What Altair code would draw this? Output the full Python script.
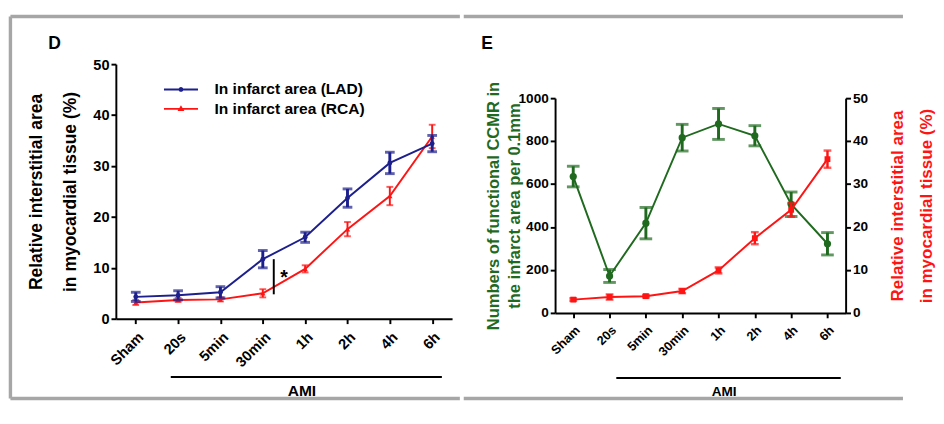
import altair as alt
import pandas as pd

# ---------------- data ----------------
categories = ["Sham", "20s", "5min", "30min", "1h", "2h", "4h", "6h"]

# Panel D: relative interstitial area (%)
lad_mean = [4.3, 4.6, 5.2, 11.7, 16.0, 23.7, 30.6, 34.4]
lad_err = [0.9, 0.9, 1.1, 1.7, 1.0, 1.8, 2.1, 1.6]
rca_mean = [3.2, 3.7, 3.8, 5.0, 9.8, 17.6, 24.1, 35.8]
rca_err = [0.5, 0.4, 0.4, 0.8, 0.7, 1.4, 1.8, 2.3]
sig_top, sig_bottom, sig_star = 11.7, 4.8, 8.0

# Panel E
ccmr_mean = [635, 172, 418, 816, 880, 825, 506, 322]
ccmr_err = [48, 30, 73, 62, 72, 47, 57, 52]
area_mean = [3.1, 3.7, 3.9, 5.1, 9.9, 17.4, 24.0, 35.8]
area_err = [0.3, 0.6, 0.3, 0.5, 0.7, 1.4, 1.6, 2.0]

legend_labels = ["In infarct area (LAD)", "In infarct area (RCA)"]
yD_title = ["Relative interstitial area", "in myocardial tissue (%)"]
yE_left_title = ["Numbers of functional CCMR in", "the infarct area per 0.1mm"]
yE_right_title = ["Relative interstitial area", "in myocardial tissue (%)"]

FONT = "Liberation Sans"
NAVY = "#1c1f8c"
RED = "#ff1414"
GREEN = "#1f6a1f"
FRAME = "#a6a6a6"


def frame_df(mean, err):
    return pd.DataFrame({
        "cat": categories,
        "mean": mean,
        "lo": [m - e for m, e in zip(mean, err)],
        "hi": [m + e for m, e in zip(mean, err)],
    })


dLAD = frame_df(lad_mean, lad_err)
dRCA = frame_df(rca_mean, rca_err)
dCC = frame_df(ccmr_mean, ccmr_err)
dAR = frame_df(area_mean, area_err)
one = alt.Data(values=[{"a": 1}])

# ---------------- geometry ----------------
W1, H1 = 346, 262   # panel D plot area
W2, H2 = 299, 256   # panel E plot area (y range 35..256 inside it)
E_TOP = 35
FR_TOP, FR_BOT = -49, 344


def series_layers(df, xenc, ymaker, color, err_w, cap_w, cap_size, shape, pt_size):
    base = alt.Chart(df)
    return [
        base.mark_line(color=color, strokeWidth=2).encode(x=xenc, y=ymaker("mean")),
        base.mark_rule(color=color, strokeWidth=err_w).encode(x=xenc, y=ymaker("lo"), y2="hi:Q"),
        base.mark_tick(color=color, thickness=cap_w, size=cap_size).encode(x=xenc, y=ymaker("lo")),
        base.mark_tick(color=color, thickness=cap_w, size=cap_size).encode(x=xenc, y=ymaker("hi")),
        base.mark_point(color=color, filled=True, opacity=1, shape=shape, size=pt_size).encode(x=xenc, y=ymaker("mean")),
    ]


def frame_rules(x0, x1, ytop, ybot, left=True):
    r = []
    r.append(alt.Chart(one).mark_rule(color=FRAME, strokeWidth=3.5).encode(
        x=alt.value(x0), x2=alt.value(x1), y=alt.value(ytop)))
    r.append(alt.Chart(one).mark_rule(color=FRAME, strokeWidth=3.5).encode(
        x=alt.value(x0), x2=alt.value(x1), y=alt.value(ybot)))
    if left:
        r.append(alt.Chart(one).mark_rule(color=FRAME, strokeWidth=3.5).encode(
            x=alt.value(x0), y=alt.value(ytop), y2=alt.value(ybot)))
    return r


def text_mark(x, y, txt, size, align="center", baseline="middle"):
    return alt.Chart(one).mark_text(font=FONT, fontSize=size, fontWeight="bold", color="black",
                                    align=align, baseline=baseline).encode(
        x=alt.value(x), y=alt.value(y), text=alt.value(txt))


# ---------------- panel D ----------------
xD = alt.X("cat:N", sort=categories, scale=alt.Scale(type="point", padding=0.47),
           axis=alt.Axis(title=None, labelAngle=-45, labelFontSize=15, labelPadding=6))


def yD(field):
    return alt.Y(f"{field}:Q", scale=alt.Scale(domain=[0, 50], nice=False),
                 axis=alt.Axis(values=[0, 10, 20, 30, 40, 50], title=yD_title, titleFontSize=18,
                               titleLineHeight=35, titlePadding=14, labelFontSize=15))


path_lad = ("M-3.5,-0.2L3.5,-0.2L3.5,0.2L-3.5,0.2Z "
            "M-0.5,0A0.5,0.5 0 1,1 0.5,0A0.5,0.5 0 1,1 -0.5,0Z")
path_rca = ("M-3.5,-0.2L3.5,-0.2L3.5,0.2L-3.5,0.2Z "
            "M0,-0.75L0.7,0.45L-0.7,0.45Z")
leg = alt.Legend(orient="none", legendX=59, legendY=18, title=None, labelFont=FONT,
                 labelFontSize=16, labelFontWeight="bold", labelColor="black",
                 symbolSize=100, symbolOpacity=1, rowPadding=4, labelOffset=26.5)
legend_layer = alt.Chart(alt.Data(values=[{"s": legend_labels[0]}, {"s": legend_labels[1]}])).mark_point(
    filled=True, opacity=1).encode(
    color=alt.Color("s:N", scale=alt.Scale(domain=legend_labels, range=[NAVY, RED]), legend=leg),
    shape=alt.Shape("s:N", scale=alt.Scale(domain=legend_labels, range=[path_lad, path_rca]), legend=leg),
).transform_filter("false")

panelD_layers = (
    series_layers(dRCA, xD, yD, RED, 2, 2, 7, "triangle-up", 30)
    + series_layers(dLAD, xD, yD, NAVY, 3, 3, 10, "circle", 25)
    + [
        alt.Chart(one).mark_rule(color="black", strokeWidth=2).encode(
            x=alt.value(162.5), y=alt.datum(sig_top), y2=alt.datum(sig_bottom)),
        alt.Chart(one).mark_text(font=FONT, fontSize=20, fontWeight="bold", color="black").encode(
            x=alt.value(173), y=alt.datum(sig_star), text=alt.value("*")),
        alt.Chart(one).mark_rule(color="black", strokeWidth=2).encode(
            x=alt.value(56.5), x2=alt.value(335.5), y=alt.value(322)),
        text_mark(191.5, 337, "AMI", 16),
        text_mark(-69.5, -15.5, "D", 18, align="left", baseline="alphabetic"),
        legend_layer,
    ]
    + frame_rules(-108.5, 354, FR_TOP, FR_BOT)
)
panelD = alt.layer(*panelD_layers).properties(width=W1, height=H1)

# ---------------- panel E ----------------
xE = alt.X("cat:N", sort=categories, scale=alt.Scale(type="point", padding=0.5),
           axis=alt.Axis(title=None, labelAngle=-45, labelFontSize=13, labelPadding=6))


def yE_left(field):
    return alt.Y(f"{field}:Q", scale=alt.Scale(domain=[0, 1000], nice=False, range=[H2, E_TOP]),
                 axis=alt.Axis(values=[0, 200, 400, 600, 800, 1000], format="d", title=yE_left_title,
                               titleColor=GREEN, titleFontSize=17, titleLineHeight=22,
                               titlePadding=-6, labelFontSize=14, orient="left"))


def yE_right(field):
    return alt.Y(f"{field}:Q", scale=alt.Scale(domain=[0, 50], nice=False, range=[H2, E_TOP]),
                 axis=alt.Axis(values=[0, 10, 20, 30, 40, 50], title=yE_right_title,
                               titleColor=RED, titleFontSize=17.5, titleLineHeight=30,
                               titleAngle=270, titlePadding=10, labelFontSize=14, orient="right"))


green = alt.layer(*series_layers(dCC, xE, yE_left, GREEN, 3, 3, 13, "circle", 55))
red = alt.layer(*series_layers(dAR, xE, yE_right, RED, 2.5, 2.5, 8, "square", 36))
extrasE = alt.layer(
    alt.Chart(one).mark_rule(color="black", strokeWidth=2).encode(
        x=alt.value(63), x2=alt.value(294), y=alt.value(323)),
    text_mark(174, 338, "AMI", 14),
    text_mark(-76, -16, "E", 18, align="left", baseline="alphabetic"),
    *frame_rules(-94, 358, FR_TOP, FR_BOT, left=False),
)
panelE = alt.layer(green, red, extrasE).resolve_scale(y="independent").properties(width=W2, height=H2)

chart = alt.hconcat(panelD, panelE, spacing=0).properties(
    padding={"top": 1, "left": 0, "right": 0, "bottom": 0},
    background="white",
).configure_view(stroke=None).configure_axis(
    domainColor="black", domainWidth=2, tickColor="black", tickWidth=2, tickSize=5,
    labelFont=FONT, labelFontWeight="bold", labelColor="black",
    titleFont=FONT, titleFontWeight="bold", titleColor="black", grid=False,
)

chart.save("out.html", embed_options={"renderer": "svg", "actions": False})
